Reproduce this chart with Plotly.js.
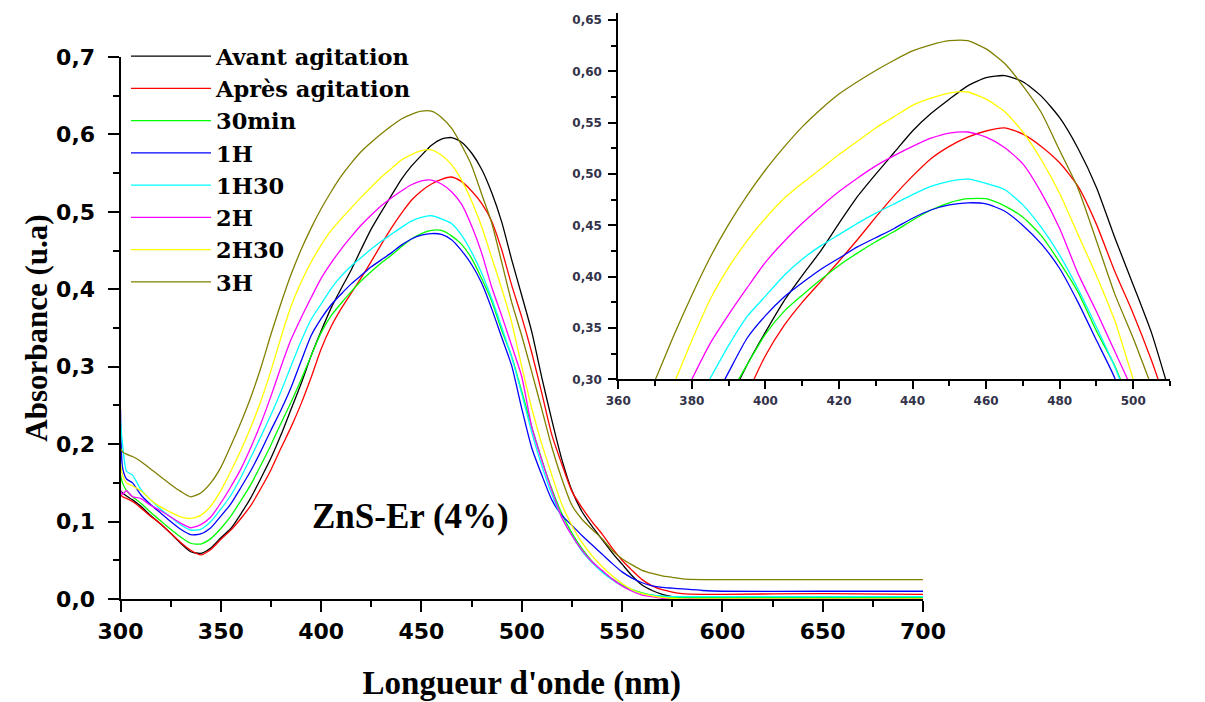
<!DOCTYPE html>
<html><head><meta charset="utf-8">
<script src="https://cdn.plot.ly/plotly-3.0.1.min.js"></script>
<style>html,body{margin:0;padding:0;background:#fff}</style>
</head><body><div id="chart" style="width:1205px;height:702px"></div>
<script>
const wavelength = [300,301,303,306,310,315,320,325,330,335,340,345,350,355,360,365,370,375,380,385,390,395,400,405,410,415,420,425,430,435,440,445,450,455,460,465,470,475,480,485,490,495,500,505,510,515,520,525,530,535,540,545,550,555,560,565,570,575,580,590,600,650,700];

const avantAgitation = [0.140,0.137,0.133,0.128,0.120,0.108,0.097,0.085,0.072,0.061,0.059,0.066,0.079,0.091,0.110,0.131,0.156,0.182,0.212,0.245,0.278,0.314,0.346,0.376,0.401,0.425,0.452,0.478,0.500,0.521,0.542,0.559,0.573,0.586,0.594,0.596,0.590,0.576,0.555,0.525,0.487,0.438,0.392,0.345,0.286,0.231,0.180,0.140,0.113,0.094,0.077,0.060,0.045,0.030,0.018,0.011,0.006,0.003,0.002,0.001,0.001,0.001,0.001];
const apresAgitation = [0.135,0.132,0.130,0.126,0.118,0.107,0.097,0.085,0.073,0.063,0.057,0.064,0.077,0.089,0.104,0.121,0.143,0.167,0.195,0.222,0.252,0.286,0.323,0.352,0.375,0.395,0.415,0.436,0.458,0.479,0.498,0.515,0.527,0.536,0.542,0.545,0.539,0.527,0.511,0.488,0.451,0.405,0.364,0.318,0.266,0.212,0.174,0.139,0.118,0.100,0.084,0.066,0.050,0.037,0.025,0.017,0.012,0.009,0.007,0.006,0.006,0.007,0.006];
const min30 = [0.160,0.150,0.140,0.132,0.124,0.112,0.101,0.090,0.080,0.072,0.071,0.078,0.091,0.107,0.127,0.148,0.173,0.199,0.227,0.254,0.283,0.314,0.344,0.366,0.382,0.397,0.411,0.423,0.434,0.444,0.455,0.465,0.472,0.476,0.476,0.469,0.458,0.440,0.414,0.385,0.347,0.313,0.268,0.222,0.180,0.142,0.110,0.085,0.065,0.049,0.036,0.026,0.018,0.012,0.008,0.005,0.003,0.002,0.002,0.002,0.002,0.002,0.002];
const h1 = [0.245,0.170,0.155,0.150,0.135,0.122,0.111,0.100,0.090,0.083,0.084,0.092,0.107,0.123,0.144,0.166,0.191,0.218,0.244,0.273,0.307,0.340,0.362,0.380,0.394,0.407,0.418,0.429,0.438,0.447,0.457,0.465,0.470,0.472,0.471,0.464,0.450,0.432,0.408,0.375,0.338,0.301,0.246,0.195,0.160,0.128,0.108,0.095,0.082,0.070,0.058,0.046,0.035,0.027,0.021,0.017,0.015,0.014,0.013,0.011,0.010,0.010,0.010];
const h1m30 = [0.230,0.200,0.165,0.160,0.142,0.128,0.116,0.106,0.096,0.089,0.090,0.100,0.116,0.134,0.157,0.183,0.210,0.238,0.268,0.301,0.333,0.361,0.381,0.401,0.417,0.430,0.441,0.452,0.462,0.471,0.480,0.488,0.493,0.495,0.491,0.485,0.470,0.448,0.421,0.388,0.351,0.312,0.265,0.215,0.172,0.135,0.105,0.082,0.062,0.047,0.035,0.025,0.017,0.011,0.007,0.005,0.004,0.003,0.003,0.003,0.003,0.003,0.003];
const h2 = [0.140,0.135,0.140,0.132,0.130,0.121,0.114,0.106,0.098,0.092,0.096,0.106,0.124,0.145,0.168,0.196,0.227,0.262,0.300,0.335,0.363,0.389,0.414,0.434,0.452,0.468,0.483,0.496,0.508,0.518,0.527,0.535,0.540,0.541,0.536,0.526,0.510,0.482,0.447,0.403,0.366,0.327,0.287,0.222,0.179,0.140,0.105,0.082,0.063,0.048,0.037,0.026,0.017,0.010,0.005,0.003,0.001,0.000,0.000,0.000,0.000,0.000,0.000];
const h2m30 = [0.175,0.160,0.150,0.146,0.140,0.128,0.119,0.112,0.106,0.104,0.108,0.120,0.140,0.165,0.192,0.222,0.256,0.295,0.338,0.378,0.409,0.435,0.457,0.476,0.491,0.505,0.519,0.532,0.545,0.556,0.567,0.574,0.579,0.580,0.573,0.561,0.541,0.514,0.481,0.441,0.401,0.357,0.300,0.246,0.200,0.160,0.122,0.095,0.073,0.056,0.042,0.030,0.020,0.012,0.007,0.004,0.002,0.001,0.000,0.000,0.000,0.000,0.000];
const h3 = [0.195,0.190,0.187,0.184,0.178,0.168,0.158,0.148,0.139,0.132,0.137,0.150,0.170,0.198,0.228,0.261,0.299,0.342,0.382,0.419,0.451,0.479,0.504,0.526,0.546,0.563,0.578,0.590,0.601,0.611,0.620,0.626,0.630,0.630,0.622,0.608,0.586,0.560,0.523,0.486,0.435,0.383,0.340,0.293,0.245,0.196,0.155,0.121,0.103,0.090,0.078,0.063,0.052,0.044,0.037,0.033,0.030,0.028,0.026,0.025,0.025,0.025,0.025];

const seriesNames = ['Avant agitation','Après agitation','30min','1H','1H30','2H','2H30','3H'];
const seriesValues = [avantAgitation, apresAgitation, min30, h1, h1m30, h2, h2m30, h3];
const annotationText = 'ZnS-Er (4%)';
const xTitle = "Longueur d'onde (nm)";
const yTitle = 'Absorbance (u.a)';

const colors = ['#000000','#ff0000','#00ff00','#0000ff','#00ffff','#ff00ff','#ffff00','#808000'];

const traces = [];
seriesValues.forEach((vals, i) => {
  traces.push({x: wavelength, y: vals, type: 'scatter', mode: 'lines', name: seriesNames[i],
    line: {color: colors[i], width: 1.3, shape: 'spline', smoothing: 0.6}, xaxis: 'x', yaxis: 'y', showlegend: true});
});
seriesValues.forEach((vals, i) => {
  traces.push({x: wavelength, y: vals, type: 'scatter', mode: 'lines', name: seriesNames[i],
    line: {color: colors[i], width: 1.3, shape: 'spline', smoothing: 0.6}, xaxis: 'x2', yaxis: 'y2', showlegend: false});
});

const W = 1205, H = 702;
const mainFont = {family: 'DejaVu Sans', size: 22, color: '#000', weight: 'bold'};
const insetFont = {family: 'DejaVu Sans', size: 12, color: '#33334a', weight: 'bold'};

const layout = {
  width: W, height: H,
  margin: {l: 0, r: 0, t: 0, b: 0},
  paper_bgcolor: '#fff', plot_bgcolor: 'rgba(0,0,0,0)',
  separators: ',.',
  showlegend: true,
  xaxis: {
    domain: [120.5 / W, 923 / W], range: [300, 700], tick0: 300, dtick: 50,
    showline: true, linewidth: 2, linecolor: '#000', showgrid: false, zeroline: false,
    ticks: 'outside', ticklen: 11, tickwidth: 2, tickcolor: '#000',
    minor: {dtick: 25, ticks: 'outside', ticklen: 6, tickwidth: 2, tickcolor: '#000'},
    tickfont: mainFont, ticklabelstandoff: 1,
    title: {text: xTitle, font: {family: 'Liberation Serif', size: 33, color: '#000', weight: 'bold'}}
  },
  yaxis: {
    domain: [(H - 599) / H, (H - 57) / H], range: [0, 0.7], tick0: 0, dtick: 0.1, tickformat: '.1f',
    showline: true, linewidth: 2, linecolor: '#000', showgrid: false, zeroline: false,
    ticks: 'outside', ticklen: 11, tickwidth: 2, tickcolor: '#000',
    minor: {dtick: 0.05, ticks: 'outside', ticklen: 6, tickwidth: 2, tickcolor: '#000'},
    tickfont: mainFont, ticklabelstandoff: 8,
    title: {text: yTitle, font: {family: 'Liberation Serif', size: 31, color: '#000', weight: 'bold'}}
  },
  xaxis2: {
    domain: [618.3 / W, 1170 / W], range: [360, 510], tick0: 360, dtick: 20, anchor: 'y2',
    showline: true, linewidth: 2, linecolor: '#000', showgrid: false, zeroline: false,
    ticks: 'outside', ticklen: 8, tickwidth: 2, tickcolor: '#000',
    minor: {dtick: 10, ticks: 'outside', ticklen: 5, tickwidth: 2, tickcolor: '#000'},
    tickfont: insetFont, ticklabelstandoff: 1
  },
  yaxis2: {
    domain: [(H - 379.3) / H, (H - 13) / H], range: [0.30, 0.657], tick0: 0.30, dtick: 0.05, tickformat: '.2f', anchor: 'x2',
    showline: true, linewidth: 2, linecolor: '#000', showgrid: false, zeroline: false,
    ticks: 'outside', ticklen: 8, tickwidth: 2, tickcolor: '#000',
    minor: {dtick: 0.025, ticks: 'outside', ticklen: 5, tickwidth: 2, tickcolor: '#000'},
    tickfont: insetFont, ticklabelstandoff: 4
  },
  legend: {
    x: 126 / W, y: 1 - 35 / H, xanchor: 'left', yanchor: 'top',
    bgcolor: 'rgba(0,0,0,0)', borderwidth: 0, itemwidth: 80, tracegroupgap: 0,
    font: {family: 'DejaVu Serif', size: 22.5, color: '#000', weight: 'bold'}
  },
  annotations: [{
    text: annotationText, xref: 'paper', yref: 'paper', x: 410 / W, y: 1 - 516 / H,
    xanchor: 'center', yanchor: 'middle', showarrow: false,
    font: {family: 'Liberation Serif', size: 35, color: '#000', weight: 'bold'}
  }]
};

Plotly.newPlot('chart', traces, layout, {displayModeBar: false, staticPlot: true});
</script>
</body></html>
